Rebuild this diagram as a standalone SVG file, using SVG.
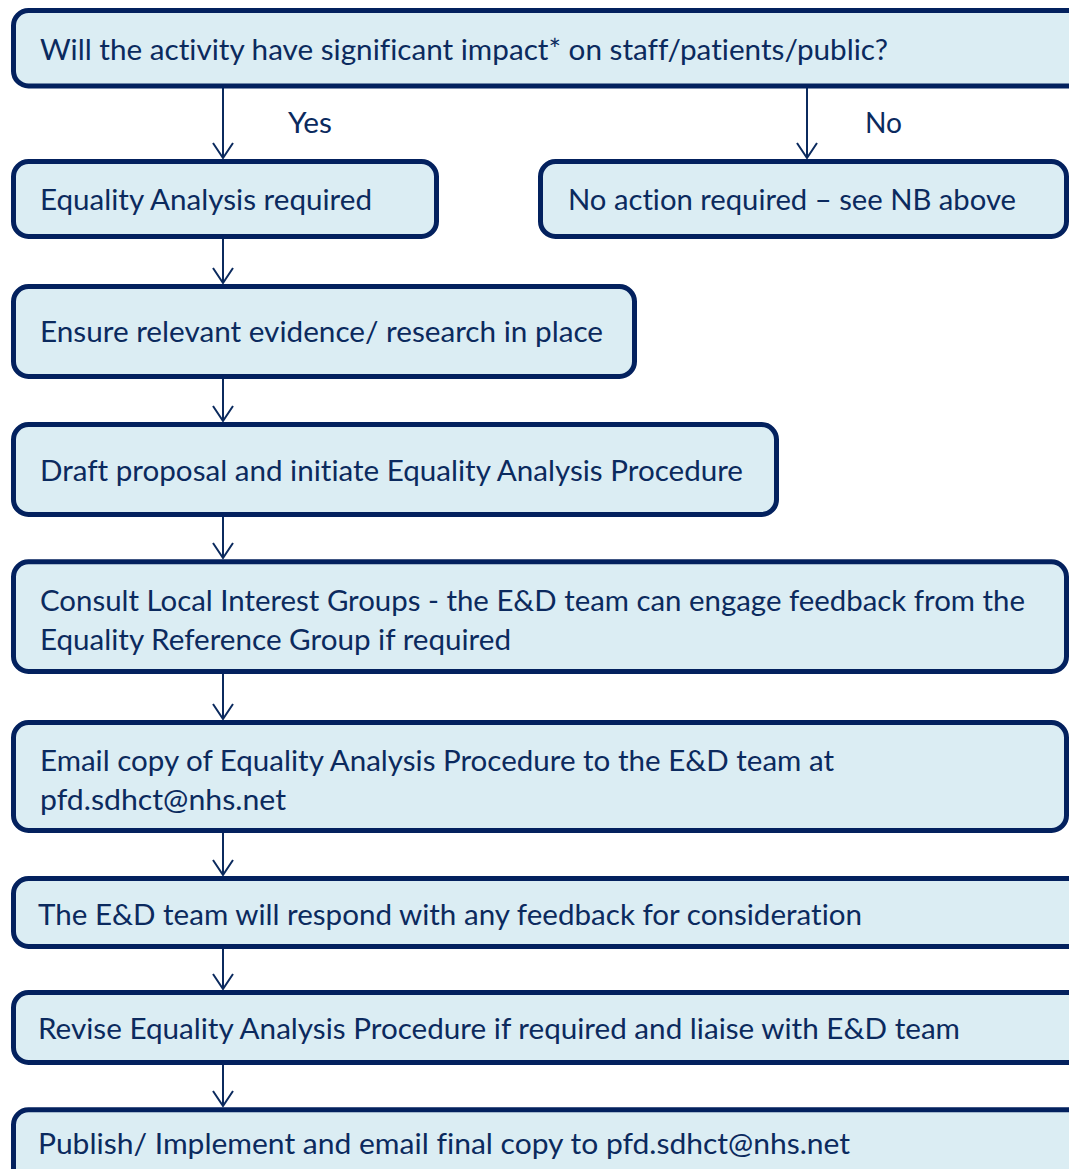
<svg xmlns="http://www.w3.org/2000/svg" width="1069" height="1169" viewBox="0 0 1069 1169">
<style>
.box{fill:#DBEDF3;stroke:#03215E;stroke-width:5}
.t{font-family:Lato,"Open Sans","Liberation Sans",sans-serif;font-size:28px;fill:#0B2A5E;font-variant-ligatures:none;font-feature-settings:"liga" 0,"clig" 0}
.c{stroke:#0B2A5E;stroke-width:2;fill:none}
</style>
<defs>
<marker id="ah" markerUnits="userSpaceOnUse" viewBox="-17 -12 19 24" markerWidth="19" markerHeight="24" refX="0" refY="0" orient="auto" overflow="visible">
<path d="M-15,-10 L0,0 L-15,10" fill="none" stroke="#0B2A5E" stroke-width="2"/>
</marker>
</defs>
<rect width="1069" height="1169" fill="#FFFFFF"/>
<g id="connectors">
<path class="c" d="M223,88 V158" marker-end="url(#ah)"/>
<path class="c" d="M807,88 V158" marker-end="url(#ah)"/>
<path class="c" d="M223,239 V283" marker-end="url(#ah)"/>
<path class="c" d="M223,379 V421" marker-end="url(#ah)"/>
<path class="c" d="M223,517 V558" marker-end="url(#ah)"/>
<path class="c" d="M223,674 V719" marker-end="url(#ah)"/>
<path class="c" d="M223,833 V875" marker-end="url(#ah)"/>
<path class="c" d="M223,949 V989" marker-end="url(#ah)"/>
<path class="c" d="M223,1065 V1106" marker-end="url(#ah)"/>
<text class="t" x="288" y="133" textLength="44" lengthAdjust="spacingAndGlyphs">Yes</text>
<text class="t" x="865" y="133" textLength="37" lengthAdjust="spacingAndGlyphs">No</text>
</g>
<g id="n1">
<rect class="box" x="13.5" y="10.5" width="1100" height="75.5" rx="15"/>
<text class="t" x="40" y="60" textLength="848" lengthAdjust="spacingAndGlyphs">Will the activity have significant impact* on staff/patients/public?</text>
</g>
<g id="n2">
<rect class="box" x="13.5" y="161.5" width="423" height="75" rx="15"/>
<text class="t" x="40" y="210" textLength="332" lengthAdjust="spacingAndGlyphs">Equality Analysis required</text>
</g>
<g id="n3">
<rect class="box" x="540.5" y="161.5" width="526" height="75" rx="15"/>
<text class="t" x="568" y="210" textLength="448" lengthAdjust="spacingAndGlyphs">No action required – see NB above</text>
</g>
<g id="n4">
<rect class="box" x="13.5" y="286.5" width="621" height="90" rx="15"/>
<text class="t" x="40" y="342" textLength="563" lengthAdjust="spacingAndGlyphs">Ensure relevant evidence/ research in place</text>
</g>
<g id="n5">
<rect class="box" x="13.5" y="424.5" width="763" height="90" rx="15"/>
<text class="t" x="40" y="481" textLength="703" lengthAdjust="spacingAndGlyphs">Draft proposal and initiate Equality Analysis Procedure</text>
</g>
<g id="n6">
<rect class="box" x="13.5" y="561.8" width="1053" height="109.7" rx="15"/>
<text class="t" x="40" y="611" textLength="985" lengthAdjust="spacingAndGlyphs">Consult Local Interest Groups - the E&amp;D team can engage feedback from the</text>
<text class="t" x="40" y="650" textLength="471" lengthAdjust="spacingAndGlyphs">Equality Reference Group if required</text>
</g>
<g id="n7">
<rect class="box" x="13.5" y="722.5" width="1053" height="108" rx="15"/>
<text class="t" x="40" y="771" textLength="794" lengthAdjust="spacingAndGlyphs">Email copy of Equality Analysis Procedure to the E&amp;D team at</text>
<text class="t" x="40" y="810" textLength="246" lengthAdjust="spacingAndGlyphs">pfd.sdhct@nhs.net</text>
</g>
<g id="n8">
<rect class="box" x="13.5" y="878.5" width="1100" height="68" rx="15"/>
<text class="t" x="38" y="925" textLength="824" lengthAdjust="spacingAndGlyphs">The E&amp;D team will respond with any feedback for consideration</text>
</g>
<g id="n9">
<rect class="box" x="13.5" y="992.5" width="1100" height="70" rx="15"/>
<text class="t" x="38" y="1039" textLength="922" lengthAdjust="spacingAndGlyphs">Revise Equality Analysis Procedure if required and liaise with E&amp;D team</text>
</g>
<g id="n10">
<rect class="box" x="13.5" y="1109.8" width="1100" height="100" rx="15"/>
<text class="t" x="38" y="1154" textLength="812" lengthAdjust="spacingAndGlyphs">Publish/ Implement and email final copy to pfd.sdhct@nhs.net</text>
</g>
</svg>
